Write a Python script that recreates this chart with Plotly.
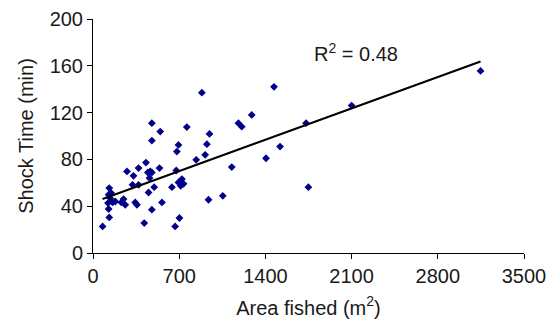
import numpy as np
import plotly.graph_objects as go

area = [78, 132, 132, 127, 148, 140, 122, 159, 127, 181, 230, 248, 262, 276, 329,
        370, 343, 357, 321, 370, 430, 446, 459, 451, 416, 465, 478, 478, 546, 478,
        540, 478, 497, 560, 641, 681, 694, 676, 694, 722, 735, 712, 702, 667, 762,
        838, 884, 911, 925, 946, 938, 1054, 1127, 1181, 1208, 1289, 1405, 1470, 1519,
        1730, 1749, 2100, 3147]
shock = [22.7, 30.4, 55.5, 49.8, 51.2, 46.9, 42.7, 43.2, 37.6, 44, 43.2, 46.1, 41.2,
         69.7, 66, 72.6, 43.2, 41.2, 58.3, 58.3, 77.3, 68.8, 64, 51.7, 25.6, 69.7, 37,
         111, 103.8, 96.1, 72.6, 68.8, 56.3, 43.2, 56.3, 86.7, 92.4, 70.5, 60.3, 63.2,
         59.2, 57.5, 29.9, 22.7, 107.6, 79.6, 137, 83.9, 93, 101.8, 45.5, 48.9, 73.4,
         111, 108, 118, 81, 142, 91, 111, 56.3, 126, 155.6]

x_ticks = [0, 700, 1400, 2100, 2800, 3500]
y_ticks = [0, 40, 80, 120, 160, 200]
r2_label = "R<sup>2</sup> = 0.48"

slope, intercept = np.polyfit(area, shock, 1)
xl = np.array([min(area), max(area)])
yl = intercept + slope * xl

font = "Liberation Sans, Arial, sans-serif"
txt = "#1a1a1a"
fig = go.Figure()
fig.add_trace(go.Scatter(x=area, y=shock, mode="markers",
                         marker=dict(symbol="diamond", size=6, color="#00008B"),
                         showlegend=False, cliponaxis=False))
fig.add_trace(go.Scatter(x=xl, y=yl, mode="lines",
                         line=dict(color="black", width=2), showlegend=False))
fig.add_annotation(x=2139, y=171, text=r2_label, showarrow=False,
                   font=dict(family=font, size=20, color=txt))
axis_common = dict(showline=True, linecolor="black", linewidth=1, ticks="outside",
                   ticklen=5, tickcolor="black", showgrid=False, zeroline=False,
                   tickfont=dict(family=font, size=20, color=txt))
fig.update_xaxes(range=[0, 3500], tickvals=x_ticks,
                 title=dict(text="Area fished (m<sup>2</sup>)",
                            font=dict(family=font, size=20, color=txt), standoff=14),
                 **axis_common)
fig.update_yaxes(range=[0, 200], tickvals=y_ticks,
                 title=dict(text="Shock Time (min)",
                            font=dict(family=font, size=20, color=txt), standoff=10),
                 **axis_common)
fig.update_layout(width=556, height=320, plot_bgcolor="white", paper_bgcolor="white",
                  margin=dict(l=85, r=40, t=11, b=75, autoexpand=False))
fig.write_html("out.html")
